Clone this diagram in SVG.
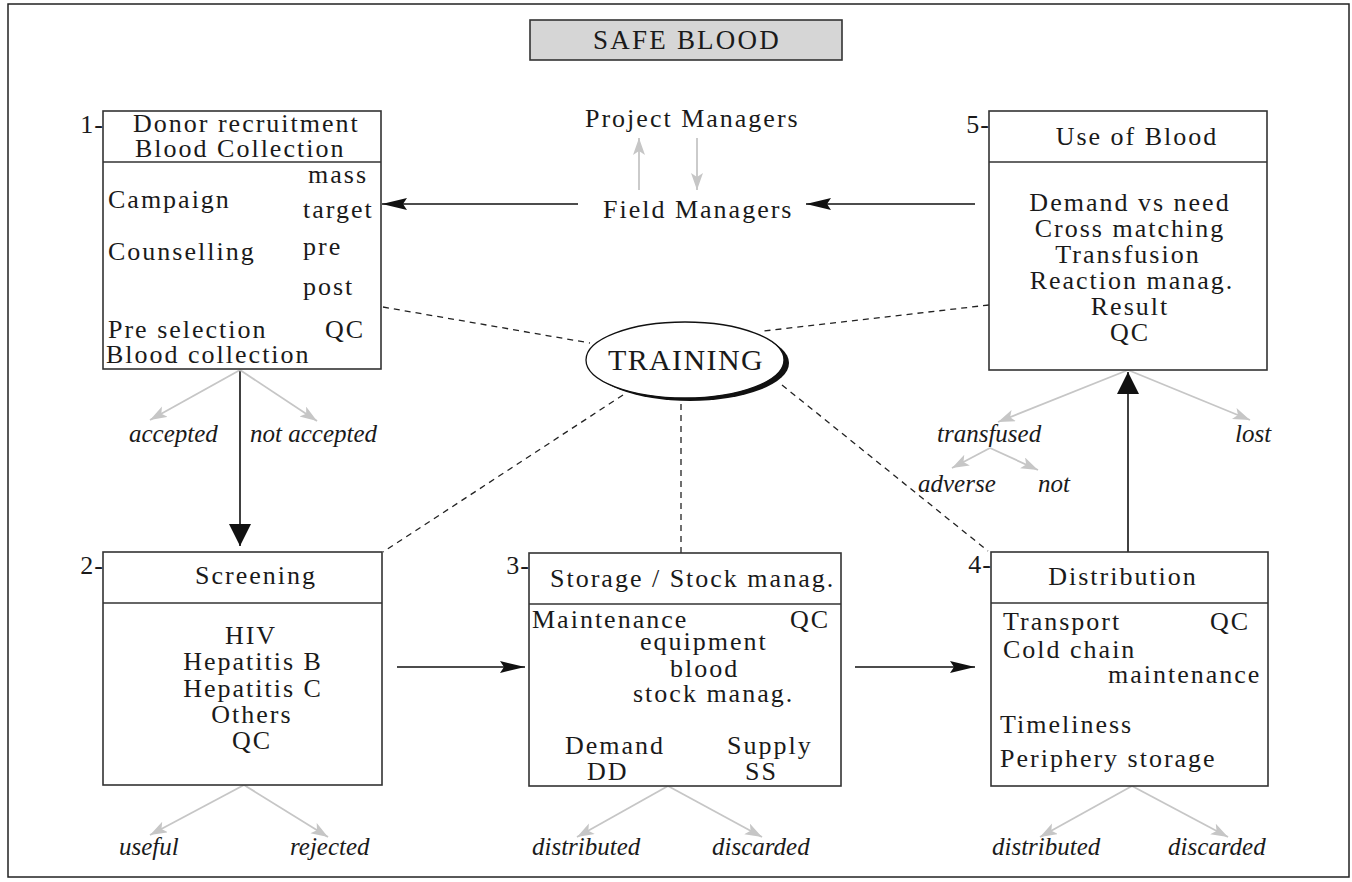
<svg xmlns="http://www.w3.org/2000/svg" width="1352" height="882" viewBox="0 0 1352 882">
  <style>
    .frame { fill: none; stroke: #222; stroke-width: 1.5; }
    .box { fill: #fff; stroke: #333; stroke-width: 1.6; }
    .div { stroke: #333; stroke-width: 1.6; }
    .t { font-family: "Liberation Serif", "Times New Roman", serif; font-size: 26px; letter-spacing: 2px; fill: #1a1a1a; }
    .c { text-anchor: middle; }
    .num { font-family: "Liberation Serif", "Times New Roman", serif; font-size: 26px; letter-spacing: 1px; fill: #1a1a1a; text-anchor: end; }
    .it { font-family: "Liberation Serif", "Times New Roman", serif; font-size: 25px; font-style: italic; fill: #1a1a1a; }
    .black { stroke: #111; stroke-width: 1.6; fill: none; }
    .dash { stroke: #222; stroke-width: 1.3; stroke-dasharray: 6 5; fill: none; }
    .grey { stroke: #c6c6c6; stroke-width: 1.8; fill: none; marker-end: url(#gh); }
  </style>
  <defs>
    <marker id="gh" markerUnits="userSpaceOnUse" markerWidth="20" markerHeight="14" refX="17" refY="6" orient="auto">
      <path d="M0,0 L17,6 L0,12 L4,6 z" fill="#c6c6c6"/>
    </marker>
    <marker id="bh" markerUnits="userSpaceOnUse" markerWidth="28" markerHeight="14" refX="25" refY="6" orient="auto">
      <path d="M0,0 L25,6 L0,12 L4,6 z" fill="#111"/>
    </marker>
    <marker id="bv" markerUnits="userSpaceOnUse" markerWidth="26" markerHeight="26" refX="22" refY="11" orient="auto">
      <path d="M0,0 L22,11 L0,22 z" fill="#111"/>
    </marker>
  </defs>

  <rect width="1352" height="882" fill="#fff"/>
  <rect class="frame" x="8" y="4" width="1341" height="873"/>

  <!-- title banner -->
  <g id="title">
    <rect x="530" y="20" width="312" height="40" fill="#d6d6d6" stroke="#333" stroke-width="1.6"/>
    <text class="t c" x="687" y="49" style="font-size:27px;letter-spacing:2.2px">SAFE BLOOD</text>
  </g>

  <!-- connectors -->
  <g id="connectors">
    <!-- main flow -->
    <line class="black" x1="578" y1="204" x2="382" y2="204" marker-end="url(#bh)"/>
    <line class="black" x1="975" y1="204" x2="806" y2="204" marker-end="url(#bh)"/>
    <line class="black" x1="240" y1="370" x2="240" y2="546" marker-end="url(#bv)"/>
    <line class="black" x1="397" y1="667" x2="525" y2="667" marker-end="url(#bh)"/>
    <line class="black" x1="855" y1="667" x2="975" y2="667" marker-end="url(#bh)"/>
    <line class="black" x1="1128" y1="552" x2="1128" y2="372" marker-end="url(#bv)"/>

    <!-- training links -->
    <line class="dash" x1="383" y1="307" x2="590" y2="343"/>
    <line class="dash" x1="989" y1="305" x2="764" y2="331"/>
    <line class="dash" x1="623" y1="395" x2="383" y2="552"/>
    <line class="dash" x1="681" y1="404" x2="681" y2="553"/>
    <line class="dash" x1="782" y1="385" x2="988" y2="551"/>

    <!-- managers -->
    <line class="grey" x1="639" y1="190" x2="639" y2="138"/>
    <line class="grey" x1="697" y1="138" x2="697" y2="190"/>

    <!-- box 1 inner branches -->
    <line class="grey" x1="236" y1="197" x2="296" y2="179"/>
    <line class="grey" x1="237" y1="204" x2="294" y2="217"/>
    <line class="grey" x1="253" y1="254" x2="300" y2="248"/>
    <line class="grey" x1="257" y1="267" x2="303" y2="288"/>

    <!-- outcome branches -->
    <line class="grey" x1="240" y1="370" x2="150" y2="420"/>
    <line class="grey" x1="240" y1="370" x2="317" y2="421"/>
    <line class="grey" x1="1128" y1="370" x2="998" y2="422"/>
    <line class="grey" x1="1128" y1="370" x2="1250" y2="420"/>
    <line class="grey" x1="990" y1="448" x2="952" y2="468"/>
    <line class="grey" x1="990" y1="448" x2="1038" y2="470"/>
    <line class="grey" x1="244" y1="785" x2="150" y2="835"/>
    <line class="grey" x1="244" y1="785" x2="328" y2="837"/>
    <line class="grey" x1="668" y1="710" x2="585" y2="732"/>
    <line class="grey" x1="668" y1="710" x2="740" y2="732"/>
    <line class="grey" x1="668" y1="786" x2="577" y2="837"/>
    <line class="grey" x1="668" y1="786" x2="762" y2="837"/>
    <line class="grey" x1="1132" y1="786" x2="1040" y2="837"/>
    <line class="grey" x1="1132" y1="786" x2="1228" y2="837"/>
  </g>

  <!-- 1: donor recruitment -->
  <g id="node-1">
    <rect class="box" x="103" y="111" width="278" height="258"/>
    <line class="div" x1="103" y1="162" x2="381" y2="162"/>
    <text class="num" x="104" y="133">1-</text>
    <text class="t" x="133" y="132">Donor recruitment</text>
    <text class="t" x="135" y="157">Blood Collection</text>
    <text class="t" x="308" y="183">mass</text>
    <text class="t" x="108" y="208">Campaign</text>
    <text class="t" x="303" y="218">target</text>
    <text class="t" x="303" y="255">pre</text>
    <text class="t" x="108" y="260">Counselling</text>
    <text class="t" x="303" y="295">post</text>
    <text class="t" x="108" y="338">Pre selection</text>
    <text class="t" x="325" y="338">QC</text>
    <text class="t" x="106" y="363">Blood collection</text>
  </g>

  <!-- managers -->
  <g id="managers">
    <text class="t" x="585" y="127">Project  Managers</text>
    <text class="t" x="603" y="218">Field Managers</text>
  </g>

  <!-- 5: use of blood -->
  <g id="node-5">
    <rect class="box" x="989" y="111" width="278" height="259"/>
    <line class="div" x1="989" y1="162" x2="1267" y2="162"/>
    <text class="num" x="990" y="133">5-</text>
    <text class="t c" x="1137" y="145">Use of Blood</text>
    <text class="t c" x="1130" y="211">Demand vs need</text>
    <text class="t c" x="1130" y="237">Cross matching</text>
    <text class="t c" x="1128" y="263">Transfusion</text>
    <text class="t c" x="1132" y="289">Reaction manag.</text>
    <text class="t c" x="1130" y="315">Result</text>
    <text class="t c" x="1130" y="341">QC</text>
  </g>

  <!-- training hub -->
  <g id="training">
    <ellipse cx="690" cy="363" rx="99" ry="38" fill="#111"/>
    <ellipse cx="685" cy="360" rx="99" ry="38" fill="#fff" stroke="#111" stroke-width="1.3"/>
    <text class="t c" x="686" y="370" style="font-size:30px;letter-spacing:1.4px">TRAINING</text>
  </g>

  <!-- 2: screening -->
  <g id="node-2">
    <rect class="box" x="103" y="552" width="279" height="233"/>
    <line class="div" x1="103" y1="603" x2="382" y2="603"/>
    <text class="num" x="104" y="574">2-</text>
    <text class="t c" x="256" y="584">Screening</text>
    <text class="t c" x="251" y="644">HIV</text>
    <text class="t c" x="253" y="670">Hepatitis B</text>
    <text class="t c" x="253" y="697">Hepatitis C</text>
    <text class="t c" x="252" y="723">Others</text>
    <text class="t c" x="252" y="749">QC</text>
  </g>

  <!-- 3: storage -->
  <g id="node-3">
    <rect class="box" x="529" y="553" width="312" height="233"/>
    <line class="div" x1="529" y1="604" x2="841" y2="604"/>
    <text class="num" x="530" y="574">3-</text>
    <text class="t" x="550" y="587">Storage / Stock manag.</text>
    <text class="t" x="532" y="628">Maintenance</text>
    <text class="t" x="790" y="628">QC</text>
    <text class="t" x="640" y="650">equipment</text>
    <text class="t" x="670" y="677">blood</text>
    <text class="t" x="633" y="702">stock manag.</text>
    <text class="t" x="565" y="754">Demand</text>
    <text class="t" x="727" y="754">Supply</text>
    <text class="t" x="587" y="780">DD</text>
    <text class="t" x="745" y="780">SS</text>
  </g>

  <!-- 4: distribution -->
  <g id="node-4">
    <rect class="box" x="991" y="552" width="277" height="234"/>
    <line class="div" x1="991" y1="603" x2="1268" y2="603"/>
    <text class="num" x="992" y="573">4-</text>
    <text class="t c" x="1123" y="585">Distribution</text>
    <text class="t" x="1003" y="630">Transport</text>
    <text class="t" x="1210" y="630">QC</text>
    <text class="t" x="1003" y="658">Cold chain</text>
    <text class="t" x="1108" y="683">maintenance</text>
    <text class="t" x="1000" y="733">Timeliness</text>
    <text class="t" x="1000" y="767">Periphery storage</text>
  </g>

  <!-- outcome labels -->
  <g id="outcomes">
    <text class="it" x="129" y="442">accepted</text>
    <text class="it" x="250" y="442">not accepted</text>
    <text class="it" x="937" y="442">transfused</text>
    <text class="it" x="1235" y="442">lost</text>
    <text class="it" x="918" y="492">adverse</text>
    <text class="it" x="1038" y="492">not</text>
    <text class="it" x="119" y="855">useful</text>
    <text class="it" x="290" y="855">rejected</text>
    <text class="it" x="532" y="855">distributed</text>
    <text class="it" x="712" y="855">discarded</text>
    <text class="it" x="992" y="855">distributed</text>
    <text class="it" x="1168" y="855">discarded</text>
  </g>
</svg>
